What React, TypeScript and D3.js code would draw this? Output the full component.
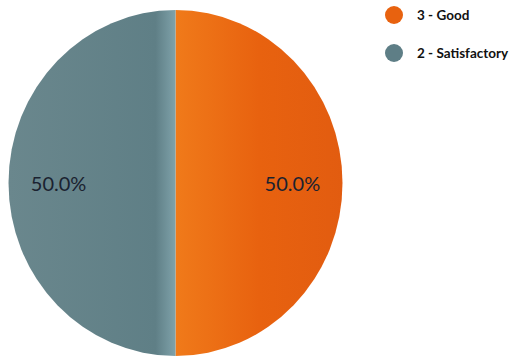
import React from "react";
import * as d3 from "d3";

const categories = ["3 - Good", "2 - Satisfactory"];
const values = [50, 50];
const colors = ["#e8620f", "#5e7e86"];
const labels = ["50.0%", "50.0%"];

export default function App() {
  const W = 518, H = 358;
  const cx = 175.5, cy = 183, r = 173;
  const sx = 167 / 173;
  const pie = d3.pie<number>().sort(null).startAngle(0).endAngle(2 * Math.PI);
  const arcs = pie(values);
  const arc = d3.arc<d3.PieArcDatum<number>>().innerRadius(0).outerRadius(r);
  const labelArc = d3.arc<d3.PieArcDatum<number>>().innerRadius(r * 0.7).outerRadius(r * 0.7);
  return (
    <svg width={W} height={H} style={{ position: "absolute", left: 0, top: 0, background: "#fff" }}>
      <defs>
        <linearGradient id="g0" x1="0" x2="1" y1="0" y2="0">
          <stop offset="0" stopColor="#f07a1a" />
          <stop offset="0.5" stopColor="#e8620f" />
          <stop offset="1" stopColor="#e25c10" />
        </linearGradient>
        <linearGradient id="g1" x1="0" x2="1" y1="0" y2="0">
          <stop offset="0" stopColor="#6a878d" />
          <stop offset="0.88" stopColor="#5f7f86" />
          <stop offset="1" stopColor="#7fa2aa" />
        </linearGradient>
      </defs>
      <g transform={`translate(${cx},${cy}) scale(${sx},1)`}>
        {arcs.map((a, i) => (
          <path key={i} d={arc(a) || ""} fill={`url(#g${i})`} />
        ))}
      </g>
      <g transform={`translate(${cx},${cy})`}>
        {arcs.map((a, i) => {
          const [x, y] = labelArc.centroid(a);
          return (
            <text key={i} x={x * sx} y={y} textAnchor="middle" dominantBaseline="central"
              fontFamily="Lato, 'Open Sans', sans-serif" fontSize={20} fill="#1a2230">
              {labels[i]}
            </text>
          );
        })}
      </g>
      <g fontFamily="Lato, 'Open Sans', sans-serif" fontWeight="bold" fontSize={13.5} fill="#111">
        {categories.map((c, i) => (
          <g key={c} transform={`translate(394,${15 + i * 38})`}>
            <circle r={9} fill={colors[i]} />
            <text x={23} y={0} dominantBaseline="central">{c}</text>
          </g>
        ))}
      </g>
    </svg>
  );
}
